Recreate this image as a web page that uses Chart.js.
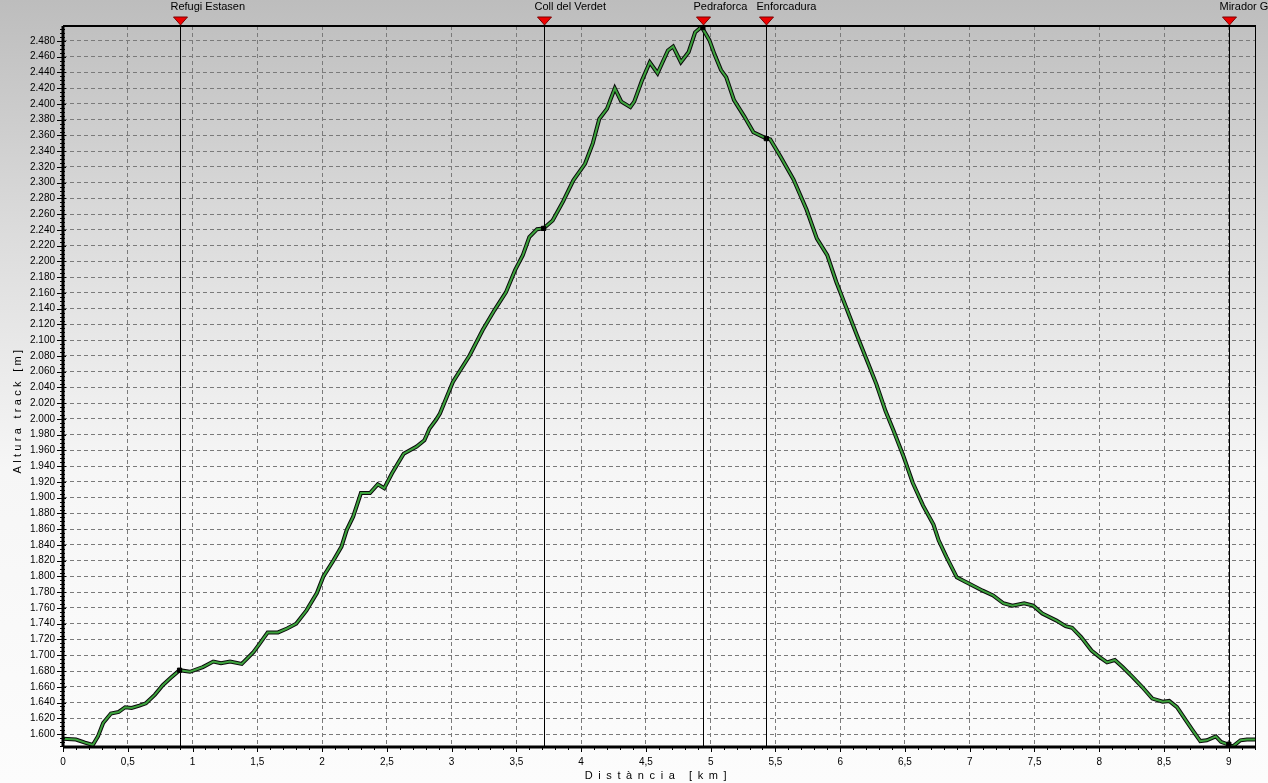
<!DOCTYPE html>
<html>
<head>
<meta charset="utf-8">
<script src="https://cdn.jsdelivr.net/npm/chart.js"></script>
<style>
  html, body { margin: 0; padding: 0; }
  #wrap {
    width: 1268px; height: 783px; position: relative;
    background: linear-gradient(to bottom, #bdbdbd 0%, #dcdcdc 30%, #f6f6f6 60%, #fcfcfc 100%);
  }
</style>
</head>
<body>
<div id="wrap"><canvas id="profile"></canvas></div>
<script>
// profile: distance [km] / altitude [m]
const dist = [
  0.00, 0.10, 0.17, 0.23, 0.27, 0.31, 0.37, 0.43, 0.48, 0.53, 0.59, 0.64, 0.71, 0.77, 0.83,
  0.90, 0.98, 1.08, 1.16, 1.22, 1.29, 1.38, 1.47, 1.52, 1.58, 1.66, 1.73, 1.80, 1.88, 1.96,
  2.01, 2.09, 2.15, 2.19, 2.24, 2.30, 2.37, 2.43, 2.48, 2.54, 2.63, 2.73, 2.79, 2.83, 2.88,
  2.91, 3.01, 3.14, 3.24, 3.33, 3.42, 3.49, 3.55, 3.60, 3.66, 3.71, 3.78, 3.86, 3.94, 4.03,
  4.09, 4.14, 4.20, 4.26, 4.31, 4.38, 4.41, 4.47, 4.53, 4.59, 4.67, 4.71, 4.77, 4.83, 4.88,
  4.93, 4.99, 5.03, 5.08, 5.12, 5.18, 5.26, 5.33, 5.42, 5.46, 5.54, 5.64, 5.74, 5.82, 5.90,
  5.97, 6.05, 6.13, 6.21, 6.28, 6.35, 6.41, 6.49, 6.56, 6.64, 6.72, 6.76, 6.82, 6.90, 6.97,
  7.10, 7.18, 7.26, 7.33, 7.42, 7.49, 7.56, 7.67, 7.74, 7.79, 7.86, 7.94, 8.00, 8.06, 8.12,
  8.18, 8.26, 8.33, 8.41, 8.49, 8.54, 8.60, 8.67, 8.72, 8.78, 8.83, 8.90, 8.94, 8.99, 9.03,
  9.09, 9.14, 9.21
]
const alt = [
  1594, 1593, 1589, 1586, 1597, 1614, 1626, 1628, 1634, 1633, 1636, 1639, 1650, 1662, 1671,
  1681, 1679, 1685, 1692, 1690, 1692, 1689, 1704, 1715, 1729, 1729, 1734, 1740, 1757, 1779,
  1800, 1821, 1838, 1859, 1876, 1906, 1906, 1917, 1912, 1931, 1956, 1965, 1973, 1988, 1999,
  2007, 2047, 2081, 2113, 2138, 2161, 2189, 2208, 2231, 2241, 2242, 2252, 2276, 2303, 2324,
  2350, 2381, 2394, 2420, 2403, 2396, 2403, 2430, 2453, 2439, 2468, 2473, 2453, 2466, 2491,
  2498, 2481, 2463, 2443, 2434, 2405, 2384, 2364, 2357, 2355, 2333, 2304, 2266, 2229, 2208,
  2174, 2140, 2106, 2073, 2044, 2010, 1986, 1952, 1919, 1890, 1866, 1846, 1825, 1799, 1793,
  1782, 1776, 1766, 1763, 1766, 1763, 1753, 1744, 1737, 1735, 1723, 1706, 1698, 1691, 1694,
  1685, 1672, 1660, 1645, 1641, 1642, 1634, 1617, 1605, 1591, 1592, 1597, 1590, 1587, 1584,
  1592, 1593, 1593
]

// waypoints
const wpNames = ['Refugi Estasen', 'Coll del Verdet', 'Pedraforca', 'Enforcadura', 'Mirador Gresolet']
const wpDist = [0.90, 3.71, 4.94, 5.43, 9.00]
const wpAlt = [1681, 2242, 2497, 2356, 1587]

// axes
const xMin = 0, xMax = 9.21, xStep = 0.5
const yMin = 1583.5, yMax = 2499, yStep = 20
const xTitle = 'Distància [km]'
const yTitle = 'Altura track [m]'

const FONT = '"Liberation Sans", Arial, sans-serif'

function fmtAlt(v){
  return String(Math.round(v)).replace(/\B(?=(\d{3})+(?!\d))/g, '.')
}
function fmtKm(v){
  return String(Math.round(v * 10) / 10).replace('.', ',')
}

const profile = dist.map((d, i) => ({x: d, y: alt[i]}))
const wpPoints = wpDist.map((d, i) => ({x: d, y: wpAlt[i]}))

// frame, ticks, waypoint markers and axis titles
const decor = {
  id: 'decor',
  beforeDatasetsDraw(chart){
    const {ctx, chartArea: a, scales: {x}} = chart
    ctx.save()
    ctx.strokeStyle = '#000'
    ctx.lineWidth = 1
    wpDist.forEach(d => {
      const px = Math.round(x.getPixelForValue(d)) + 0.5
      ctx.beginPath()
      ctx.moveTo(px, a.top)
      ctx.lineTo(px, a.bottom)
      ctx.stroke()
    })
    ctx.restore()
  },
  afterDraw(chart){
    const {ctx, chartArea: a, scales: {x, y}} = chart
    ctx.save()

    // frame
    ctx.strokeStyle = '#000'
    ctx.lineWidth = 1
    ctx.beginPath()
    ctx.moveTo(a.right - 0.5, a.top)
    ctx.lineTo(a.right - 0.5, a.bottom)
    ctx.stroke()
    ctx.lineWidth = 2
    ctx.beginPath()
    ctx.moveTo(a.left, a.top)
    ctx.lineTo(a.right, a.top)
    ctx.stroke()
    ctx.lineWidth = 3
    ctx.beginPath()
    ctx.moveTo(a.left, a.bottom)
    ctx.lineTo(a.right, a.bottom)
    ctx.moveTo(a.left, a.top)
    ctx.lineTo(a.left, a.bottom)
    ctx.stroke()

    // x ticks: major 0.5, minor 0.1
    ctx.lineWidth = 1
    ctx.beginPath()
    for (let k = 0; k <= Math.floor(xMax * 10 + 1e-6); k++){
      const px = Math.round(x.getPixelForValue(k / 10)) + 0.5
      const len = k % 5 === 0 ? 5 : 3
      ctx.moveTo(px, a.bottom)
      ctx.lineTo(px, a.bottom + len)
    }
    ctx.stroke()

    // y ticks: major 20, minor 5
    ctx.beginPath()
    for (let v = 1585; v <= yMax; v += 5){
      const py = Math.round(y.getPixelForValue(v)) + 0.5
      if (v % 20 === 0){
        ctx.moveTo(a.left - 6, py)
        ctx.lineTo(a.left + 3, py)
      } else {
        ctx.moveTo(a.left - 3, py)
        ctx.lineTo(a.left + 2, py)
      }
    }
    ctx.stroke()

    // waypoint triangles and names
    ctx.font = '11px ' + FONT
    ctx.textBaseline = 'top'
    ctx.textAlign = 'left'
    wpDist.forEach((d, i) => {
      const px = Math.round(x.getPixelForValue(d)) + 0.5
      ctx.fillStyle = '#ee0000'
      ctx.strokeStyle = '#7a0000'
      ctx.lineWidth = 1
      ctx.beginPath()
      ctx.moveTo(px - 7, a.top - 9)
      ctx.lineTo(px + 7, a.top - 9)
      ctx.lineTo(px, a.top - 1)
      ctx.closePath()
      ctx.fill()
      ctx.stroke()
      ctx.fillStyle = '#000'
      ctx.fillText(wpNames[i], px - 10, 1)
    })

    // axis titles
    ctx.fillStyle = '#000'
    ctx.font = '11px ' + FONT
    ctx.textAlign = 'center'
    ctx.textBaseline = 'middle'
    ctx.letterSpacing = '5.6px'
    ctx.fillText(xTitle, (a.left + a.right) / 2 - 1, 776)
    ctx.letterSpacing = '3.3px'
    ctx.translate(18, 410)
    ctx.rotate(-Math.PI / 2)
    ctx.fillText(yTitle, 0, 0)
    ctx.restore()
  }
}

new Chart(document.getElementById('profile'), {
  type: 'line',
  data: {
    datasets: [
      {
        label: 'waypoints',
        data: wpPoints,
        showLine: false,
        pointStyle: 'rect',
        pointRadius: 3,
        pointBackgroundColor: '#000',
        pointBorderColor: '#000',
        order: 0
      },
      {
        label: 'profile',
        data: profile,
        borderColor: '#3da33d',
        borderWidth: 2,
        pointRadius: 0,
        tension: 0,
        order: 1
      },
      {
        label: 'outline',
        data: profile,
        borderColor: '#0a0a0a',
        borderWidth: 4,
        pointRadius: 0,
        tension: 0,
        order: 2
      }
    ]
  },
  options: {
    responsive: true,
    maintainAspectRatio: false,
    animation: false,
    layout: {padding: {top: 26, right: 12, left: 0, bottom: 0}},
    plugins: {
      legend: {display: false},
      tooltip: {enabled: false}
    },
    scales: {
      x: {
        type: 'linear',
        min: xMin,
        max: xMax,
        afterFit(s){ s.height = 36 },
        border: {display: false, dash: [4, 3]},
        grid: {
          color: '#7a7a7a',
          lineWidth: 1,
          drawTicks: false
        },
        ticks: {
          stepSize: xStep,
          includeBounds: false,
          padding: 9,
          maxRotation: 0,
          autoSkip: false,
          color: '#000',
          font: {family: FONT, size: 10},
          callback: v => fmtKm(v)
        }
      },
      y: {
        min: yMin,
        max: yMax,
        afterFit(s){ s.width = 63 },
        border: {display: false, dash: [4, 3]},
        grid: {
          color: '#7a7a7a',
          lineWidth: 1,
          drawTicks: false
        },
        ticks: {
          stepSize: yStep,
          includeBounds: false,
          padding: 8,
          autoSkip: false,
          color: '#000',
          font: {family: FONT, size: 10},
          callback: v => fmtAlt(v)
        }
      }
    }
  },
  plugins: [decor]
})
</script>
</body>
</html>
